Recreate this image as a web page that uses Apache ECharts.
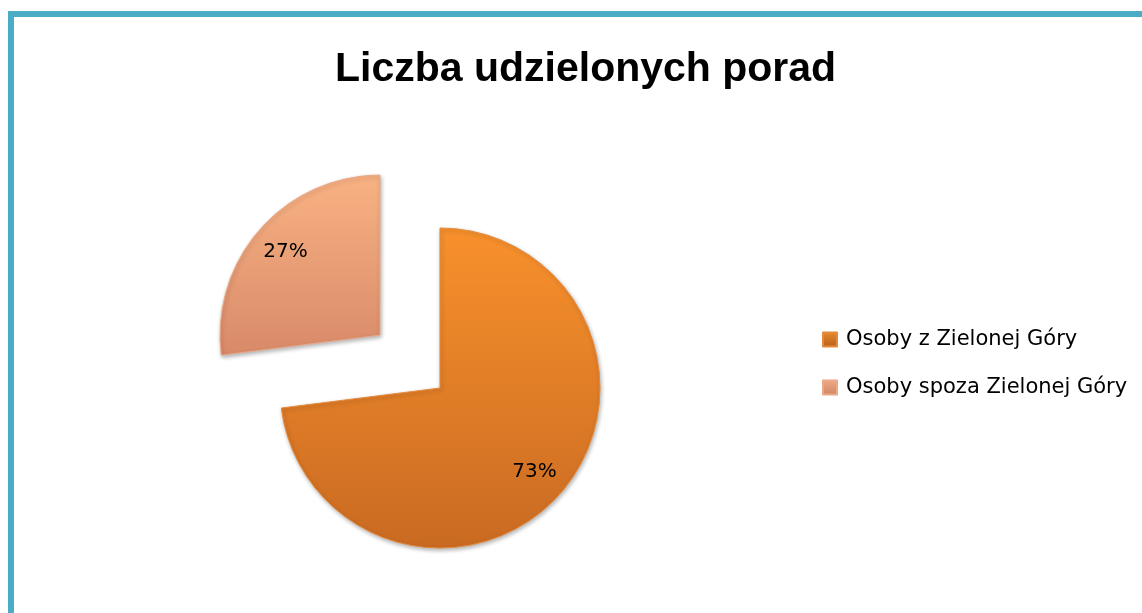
<!DOCTYPE html>
<html>
<head>
<meta charset="utf-8">
<script src="https://cdn.jsdelivr.net/npm/echarts@6/dist/echarts.min.js"></script>
<style>
html,body{margin:0;padding:0;background:#fff;}
#c{width:1142px;height:613px;}
</style>
</head>
<body>
<div id="c"></div>
<script>
const titleText = 'Liczba udzielonych porad';
const categories = ['Osoby z Zielonej Góry', 'Osoby spoza Zielonej Góry'];
const values = [73, 27];
const exploded = [false, true];

const chart = echarts.init(document.getElementById('c'));
const grads = [
  new echarts.graphic.LinearGradient(0, 0, 0, 1, [
    {offset: 0, color: '#f8912c'}, {offset: 1, color: '#c96a22'}
  ]),
  new echarts.graphic.LinearGradient(0, 0, 0, 1, [
    {offset: 0, color: '#f9b283'}, {offset: 1, color: '#d88a69'}
  ])
];
const legendGrads = [
  new echarts.graphic.LinearGradient(0, 0, 0, 1, [
    {offset: 0, color: '#e88a2c'}, {offset: 1, color: '#b85f1c'}
  ]),
  new echarts.graphic.LinearGradient(0, 0, 0, 1, [
    {offset: 0, color: '#f2aa84'}, {offset: 1, color: '#cc8464'}
  ])
];
const titleFont = '"Liberation Sans", Arial, sans-serif';
const bodyFont = '"DejaVu Sans", sans-serif';

chart.setOption({
  animation: false,
  title: {
    text: titleText,
    left: 330,
    top: 44,
    textStyle: {fontFamily: titleFont, fontSize: 41, fontWeight: 'bold', color: '#000'}
  },
  legend: {
    orient: 'vertical',
    left: 822,
    top: 329,
    padding: 0,
    itemWidth: 14,
    itemHeight: 14,
    itemGap: 27,
    icon: 'rect',
    data: categories.map((n, i) => ({name: n, itemStyle: {color: legendGrads[i]}})),
    textStyle: {fontFamily: bodyFont, fontSize: 21, color: '#000', padding: [0, 0, 0, 4]}
  },
  graphic: [{
    type: 'rect',
    shape: {x: 11, y: 14, width: 1200, height: 700},
    style: {fill: 'none', stroke: '#4bacc6', lineWidth: 6},
    silent: true
  }],
  series: [{
    type: 'pie',
    center: [440, 388],
    radius: [0, 160],
    startAngle: 90,
    clockwise: true,
    selectedMode: 'multiple',
    selectedOffset: 80,
    avoidLabelOverlap: false,
    label: {show: false},
    labelLine: {show: false},
    emphasis: {disabled: true},
    data: categories.map((n, i) => ({
      name: n, value: values[i], selected: exploded[i],
      itemStyle: {
        color: grads[i], borderColor: i === 0 ? '#e58a3c' : '#eaa887', borderWidth: 1,
        shadowBlur: 4, shadowOffsetX: 1, shadowOffsetY: 2, shadowColor: 'rgba(0,0,0,0.3)'
      }
    }))
  }, {
    type: 'pie',
    center: [440, 388],
    radius: [0, 246],
    startAngle: 90,
    clockwise: true,
    selectedMode: 'multiple',
    selectedOffset: 80,
    silent: true,
    avoidLabelOverlap: false,
    itemStyle: {color: 'rgba(0,0,0,0)'},
    label: {
      show: true, position: 'inside', formatter: '{d}%',
      fontFamily: bodyFont, fontSize: 20, color: '#000'
    },
    labelLine: {show: false},
    emphasis: {disabled: true},
    data: categories.map((n, i) => ({name: n, value: values[i], selected: exploded[i]}))
  }]
});
</script>
</body>
</html>
